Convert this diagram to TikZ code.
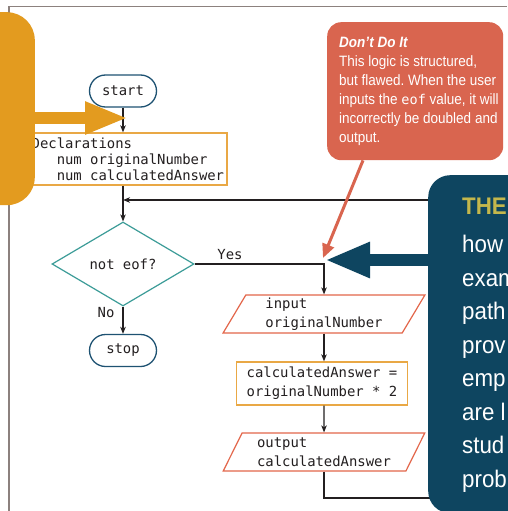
\documentclass[tikz,border=0pt]{standalone}
\usepackage{fontspec}
\setmainfont{Liberation Sans}
\newfontfamily\mono{DejaVu Sans Mono}
\newfontfamily\cond[FakeStretch=0.93]{Liberation Sans}
\newfontfamily\condn[FakeStretch=0.9]{Liberation Sans}
\usetikzlibrary{shapes.geometric,arrows.meta}
\frenchspacing
\definecolor{ink}{HTML}{231F20}
\definecolor{framec}{HTML}{8C817E}
\definecolor{orangeC}{HTML}{E39B1F}
\definecolor{boxc}{HTML}{E9A845}
\definecolor{ioc}{HTML}{E3664A}
\definecolor{decc}{HTML}{3C9C98}
\definecolor{termc}{HTML}{1E5272}
\definecolor{redC}{HTML}{D9654F}
\definecolor{blueC}{HTML}{0E4560}
\definecolor{theC}{HTML}{C4B74C}
\tikzset{
  monof/.style={font=\mono\fontsize{13.9pt}{16pt}\selectfont, text=ink},
  term/.style={monof, draw=termc, line width=1.3pt, rounded corners=16pt,
    minimum width=67pt, minimum height=32pt, inner sep=0pt},
  procbox/.style={monof, draw=boxc, line width=1.3pt, inner xsep=3pt, inner ysep=0pt, align=left},
  iobox/.style={monof, draw=ioc, line width=1.2pt, trapezium, trapezium left angle=62,
    trapezium right angle=118, trapezium stretches=true, minimum width=202pt,
    minimum height=38pt, inner sep=0pt, align=left},
  decision/.style={monof, draw=decc, line width=1.2pt, diamond, minimum width=142pt,
    minimum height=84pt, inner sep=0pt},
  flow/.style={draw=ink, line width=1.1pt, -{Stealth[length=7pt,width=5.5pt,inset=2pt]}},
  lbl/.style={monof, inner sep=0pt},
  orangebox/.style={fill=orangeC, rounded corners=28pt, minimum width=80pt, minimum height=193pt, inner sep=0pt},
  orangearrow/.style={draw=orangeC, line width=12pt, -{Triangle[length=43pt,width=30pt]}},
  calloutbox/.style={fill=redC, rounded corners=14pt, minimum width=176pt, minimum height=138pt, inner sep=0pt},
  callouttext/.style={font=\condn\fontsize{15pt}{19pt}\selectfont, text=white, align=left, inner sep=0pt},
  redarrow/.style={draw=redC, line width=3pt, -{Triangle[length=14pt,width=12pt]}},
  bluebox/.style={fill=blueC, rounded corners=22pt, minimum width=120pt, minimum height=338pt, inner sep=0pt},
  bluetext/.style={font=\cond\fontsize{24pt}{33.5pt}\selectfont, text=white, align=left, inner sep=0pt},
  bluearrow/.style={draw=blueC, line width=12pt, -{Triangle[length=45pt,width=33pt]}},
}
\begin{document}
\begin{tikzpicture}[x=1pt,y=-1pt]
\useasboundingbox (0,0) rectangle (507,511);
\fill[white] (0,0) rectangle (507,511);
% frame
\draw[framec, line width=1.5pt] (9,511) -- (9,6.5) -- (507,6.5);

% flowchart
\node[term] (start) at (123,91) {start};
\node[procbox, anchor=west, minimum height=52pt] (decl) at (28,159)
  {Declarations\\\hphantom{xxx}num originalNumber\\\hphantom{xxx}num calculatedAnswer};
\node[decision] (cond) at (123,264) {not eof?};
\node[term] (stop) at (123,350.5) {stop};
\node[iobox, font=\mono\fontsize{13.9pt}{18.5pt}\selectfont] (in) at (324,314) {input\\originalNumber};
\node[procbox, align=center, font=\mono\fontsize{13.9pt}{19pt}\selectfont, minimum width=171pt, minimum height=43pt] (proc) at (322,383.5)
  {calculatedAnswer =\\originalNumber * 2};
\node[iobox, font=\mono\fontsize{13.9pt}{19pt}\selectfont] (out) at (324,452) {output\\calculatedAnswer};
\node[lbl] (yes) at (230,255) {Yes};
\node[lbl] (no) at (106,313) {No};
\coordinate (loopR) at (475,498);
\coordinate (loopJ) at (123,200);

\draw[flow] (start.south) -- (decl.north -| start.south);
\draw[flow] (decl.south -| start.south) -- (cond.north);
\draw[flow] (cond.east) -- (cond.east -| in.north) -- (in.north);
\draw[flow] (cond.south) -- (stop.north);
\draw[flow] (in.south) -- (in.south |- proc.north);
\draw[flow] (in.south |- proc.south) -- (out.north);
\draw[flow] (out.south) |- (loopR) |- (loopJ);

% orange callout on left
\node[orangebox, anchor=north east] (obox) at (35,12) {};
\coordinate (orangetip) at (128,118);
\draw[orangearrow] ([xshift=-10pt]obox.east |- orangetip) -- (orangetip);

% red callout
\node[calloutbox, anchor=north west] (dont) at (327,22) {};
\node[callouttext, anchor=north west] (donttext) at (339,37)
  {{\bfseries\itshape Don’t Do It}\\
   This logic is structured,\\
   but flawed. When the user\\
   inputs the {\mono\fontsize{13.5pt}{19pt}\selectfont eof} value, it will\\
   incorrectly be doubled and\\
   output.};
\coordinate (redtip) at (323,258);
\draw[redarrow] ([xshift=36pt]dont.south west) -- (redtip);

% blue box
\node[bluebox, anchor=north west] (blue) at (428,175) {};
\node[bluetext, anchor=north west] (bluetxt) at (462,198)
  {{\bfseries\color{theC}THE}\\[4.5pt]
   how\\ exam\\ path\\ prov\\ emp\\ are l\\ stud\\ prob};
\coordinate (bluetip) at (325,260);
\draw[bluearrow] ([xshift=6pt]blue.west |- bluetip) -- (bluetip);
\end{tikzpicture}
\end{document}
